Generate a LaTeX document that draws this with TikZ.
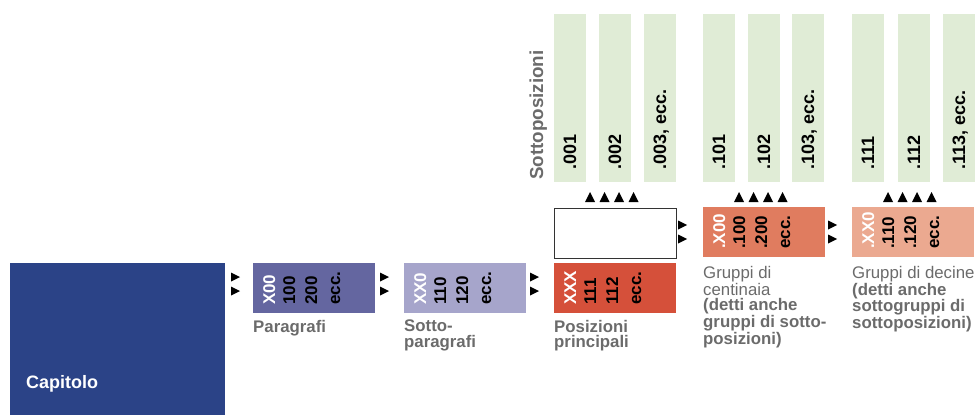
\documentclass[tikz,border=0pt]{standalone}
\usepackage{fontspec}
\setmainfont{Liberation Sans}
\usetikzlibrary{positioning}
\definecolor{capblue}{HTML}{2B4387}
\definecolor{parcol}{HTML}{6466A0}
\definecolor{sotcol}{HTML}{A6A5CB}
\definecolor{poscol}{HTML}{D5503A}
\definecolor{cencol}{HTML}{E07C5F}
\definecolor{deccol}{HTML}{EBA990}
\definecolor{subgreen}{HTML}{E0ECD6}
\definecolor{labgray}{HTML}{6B6B6B}
\tikzset{blk/.style = {inner sep = 0, minimum width = 122, minimum height = 50, anchor = north west}}
\tikzset{code/.style = {rotate = 90, anchor = base west, inner sep = 0, font = \fontsize{17}{18}\selectfont\bfseries}}
\tikzset{subtext/.style = {code, font = \fontsize{18}{18}\selectfont\bfseries}}
\tikzset{lab/.style = {anchor = north west, inner sep = 0, align = left, text = labgray, font = \fontsize{16.8}{15.6}\selectfont\bfseries}}

\begin{document}
\begin{tikzpicture}[x = 1pt, y = -1pt]
  \useasboundingbox (0, 0) rectangle (979, 415);
  \node [blk, fill = capblue, minimum width = 215, minimum height = 152] (cap) at (10, 263) {};
  \node [anchor = base west, inner sep = 0, white, font = \fontsize{18}{18}\selectfont\bfseries] (caplab) at (26, 388) {Capitolo};
  \node [blk, draw = black!80, line width = 1.2, fill = white] (vuoto) at (553.6, 207.6) {};
  % coloured boxes with their codes
  \foreach \n/\x/\y/\c/\a/\b/\d in {par/253/263/parcol/X00/100/200, sot/404/263/sotcol/XX0/110/120,
      pos/554/263/poscol/XXX/111/112, cen/703/207/cencol/.X00/.100/.200, dec/852/207/deccol/.XX0/.110/.120} {
    \node [blk, fill = \c] (\n) at (\x, \y) {};
    \node [code, white] (\n-a) at (\x + 22, \y + 42) {\a};
    \node [code] (\n-b) at (\x + 42, \y + 42) {\b};
    \node [code] (\n-c) at (\x + 64, \y + 42) {\d};
    \node [code] (\n-d) at (\x + 87, \y + 42) {ecc.};
  }
  % subheading bars
  \foreach \x/\t [count = \i] in {554/.001, 599/.002, 644/{.003, ecc.}, 703/.101, 748/.102, 792/{.103, ecc.},
      852/.111, 898/.112, 943/{.113, ecc.}} {
    \fill [subgreen] (\x, 14) rectangle (\x + 32, 182);
    \node [subtext] (s\i) at (\x + 22, 170) {\t};
  }
  \node [code, text = labgray, font = \fontsize{18.8}{18}\selectfont\bfseries] (sottopos) at (543, 180) {Sottoposizioni};
  % small arrows
  \foreach \x/\y in {231/277, 231/291, 380/277, 380/291, 530/277, 530/291, 678/225, 678/239, 828/225, 828/239} {
    \fill (\x, \y - 4.5) -- (\x + 9, \y) -- (\x, \y + 4.5) -- cycle;
  }
  \foreach \g in {554, 703, 852} {
    \foreach \i in {0, 1, 2, 3} {
      \fill (\g + 31 + 14.5 * \i, 202) -- (\g + 36 + 14.5 * \i, 192) -- (\g + 41 + 14.5 * \i, 202) -- cycle;
    }
  }
  % captions
  \node [lab] (parlab) at (253, 320) {Paragrafi};
  \node [lab] (sotlab) at (404, 320) {Sotto-\\paragrafi};
  \node [lab] (poslab) at (554, 320) {Posizioni\\principali};
  \node [lab] (cenlab) at (703, 266) {{\mdseries Gruppi di}\\{\mdseries centinaia}\\(detti anche\\gruppi di sotto-\\posizioni)};
  \node [lab] (declab) at (852, 266) {{\mdseries Gruppi di decine}\\(detti anche\\sottogruppi di\\sottoposizioni)};
\end{tikzpicture}
\end{document}
